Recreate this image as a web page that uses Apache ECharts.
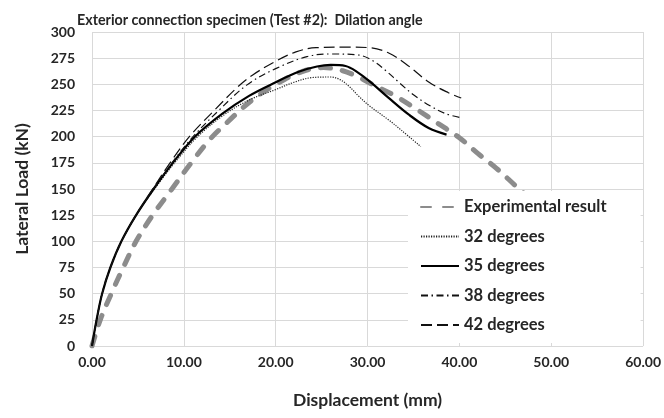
<!DOCTYPE html>
<html>
<head>
<meta charset="utf-8">
<script src="https://cdn.jsdelivr.net/npm/echarts@6/dist/echarts.min.js"></script>
<style>
  html, body { margin: 0; padding: 0; background: #fff; }
  #main { width: 664px; height: 418px; }
</style>
</head>
<body>
<div id="main"></div>
<script>
// displacement (mm), lateral load (kN) pairs
const experimental = [[0,0],[0.9,25],[2.1,50],[3.4,75],[4.8,100],[6.6,125],[8.7,150],[10.8,175],[12.9,198],[15,216],[16.6,229],[18.2,240],[20,250],[22.8,262],[25.2,266],[27.3,263],[29,257],[30.5,250],[33,239],[35.2,227],[37.6,213],[40,199],[42,184],[44,170],[46,154],[48,138]]
const deg32 = [[0,0],[0.5,25],[1.1,50],[2.0,75],[3.2,100],[4.8,125],[6.8,150],[9.0,175],[11.5,200],[14.4,221],[17.1,235],[20,245],[22,252],[24,256.5],[26,257],[27,254.5],[28,248],[29,239],[30.2,229.5],[32.3,216],[33.7,206],[35.8,190.5]]
const deg35 = [[0,0],[0.5,25],[1.1,50],[2.0,75],[3.2,100],[4.8,125],[6.7,150],[8.8,175],[11.2,200],[14.2,222],[17.1,239],[20,252],[22.5,262],[24.5,267],[26,268.5],[27.6,267.5],[29,261],[30.2,253],[32.3,237],[34.5,221],[36.7,208],[38.6,202]]
const deg38 = [[0,0],[0.5,25],[1.1,50],[2.0,75],[3.2,100],[4.8,125],[6.7,150],[8.7,175],[11.0,200],[13.8,225],[16.8,249],[20,265],[23.4,276.5],[26,279],[29,278],[30.5,273],[32,263],[33.4,252],[35,240],[36.8,229.5],[38.5,222],[40,218.5]]
const deg42 = [[0,0],[0.5,25],[1.1,50],[2.0,75],[3.2,100],[4.8,125],[6.6,150],[8.5,175],[10.6,200],[13.3,225],[15.8,247],[17.5,259],[20,272],[22.2,281],[24.4,285],[28,285.5],[30.2,285],[32.3,280],[34.1,270],[36.7,252],[38.8,242],[40.2,237]]

const seriesNames = ['Experimental result', '32 degrees', '35 degrees', '38 degrees', '42 degrees']
const xTicks = [0, 10, 20, 30, 40, 50, 60]
const yTicks = [0, 25, 50, 75, 100, 125, 150, 175, 200, 225, 250, 275, 300]

const font = 'Lato, "Open Sans", sans-serif'
const textColor = '#262626'
const gridColor = '#d9d9d9'

let myChart = echarts.init(document.getElementById('main'))

myChart.setOption({
  backgroundColor: '#fff',
  animation: false,
  title: {
    text: 'Exterior connection specimen (Test #2):  Dilation angle',
    left: 72,
    top: 8,
    textStyle: { fontFamily: font, fontSize: 14.3, fontWeight: 'bold', color: textColor }
  },
  grid: { left: 92, right: 19, top: 32, bottom: 72 },
  legend: {
    data: seriesNames,
    orient: 'vertical',
    left: 408,
    top: 191,
    itemWidth: 38,
    itemHeight: 18,
    itemGap: 11.5,
    padding: [7, 34, 9, 12],
    backgroundColor: '#fff',
    itemStyle: { opacity: 0 },
    textStyle: { fontFamily: font, fontSize: 16.5, lineHeight: 18, fontWeight: 'bold', color: textColor }
  },
  xAxis: {
    type: 'value',
    min: xTicks[0],
    max: xTicks[xTicks.length - 1],
    interval: 10,
    name: 'Displacement (mm)',
    nameLocation: 'middle',
    nameGap: 45,
    nameTextStyle: { fontFamily: font, fontSize: 17.5, fontWeight: 'bold', color: textColor },
    axisLine: { show: false },
    axisTick: { show: false },
    axisLabel: {
      margin: 9,
      fontFamily: font, fontSize: 14, fontWeight: 'bold', color: textColor,
      formatter: v => v.toFixed(2)
    },
    splitLine: { show: true, lineStyle: { color: gridColor, width: 1 } }
  },
  yAxis: {
    type: 'value',
    min: yTicks[0],
    max: yTicks[yTicks.length - 1],
    interval: 25,
    name: 'Lateral Load (kN)',
    nameLocation: 'middle',
    nameGap: 61,
    nameTextStyle: { fontFamily: font, fontSize: 17.5, fontWeight: 'bold', color: textColor },
    axisLine: { show: false },
    axisTick: { show: false },
    axisLabel: { margin: 17, fontFamily: font, fontSize: 14, fontWeight: 'bold', color: textColor },
    splitLine: { show: true, lineStyle: { color: gridColor, width: 1 } }
  },
  series: [
    {
      name: seriesNames[0],
      type: 'line',
      smooth: 0.35,
      symbol: 'none',
      data: experimental,
      itemStyle: { color: '#8c8c8c' },
      lineStyle: { color: '#8c8c8c', width: 5, type: [10, 12], cap: 'round' }
    },
    {
      name: seriesNames[1],
      type: 'line',
      smooth: 0.35,
      symbol: 'none',
      data: deg32,
      itemStyle: { color: '#222' },
      lineStyle: { color: '#222', width: 1.2, type: [1.2, 1.3] }
    },
    {
      name: seriesNames[2],
      type: 'line',
      smooth: 0.35,
      symbol: 'none',
      data: deg35,
      itemStyle: { color: '#000' },
      lineStyle: { color: '#000', width: 2.2 }
    },
    {
      name: seriesNames[3],
      type: 'line',
      smooth: 0.35,
      symbol: 'none',
      data: deg38,
      itemStyle: { color: '#111' },
      lineStyle: { color: '#111', width: 1.2, type: [7, 3.5, 1.5, 3.5] }
    },
    {
      name: seriesNames[4],
      type: 'line',
      smooth: 0.35,
      symbol: 'none',
      data: deg42,
      itemStyle: { color: '#111' },
      lineStyle: { color: '#111', width: 1.2, type: [11, 5] }
    }
  ]
})
</script>
</body>
</html>
